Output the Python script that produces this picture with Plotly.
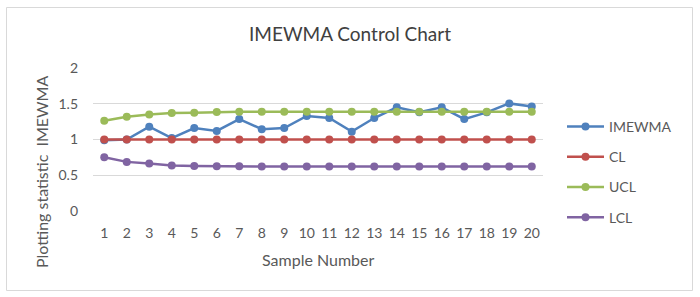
import plotly.graph_objects as go

samples = list(range(1, 21))
imewma = [0.99, 1.00, 1.18, 1.02, 1.16, 1.12, 1.285, 1.145, 1.16, 1.33,
          1.30, 1.11, 1.30, 1.45, 1.38, 1.45, 1.285, 1.38, 1.505, 1.46]
cl = [1.0] * 20
ucl = [1.262, 1.318, 1.35, 1.369, 1.374, 1.383, 1.388, 1.388, 1.388, 1.388,
       1.388, 1.388, 1.388, 1.388, 1.388, 1.388, 1.388, 1.388, 1.388, 1.388]
lcl = [0.752, 0.687, 0.664, 0.636, 0.630, 0.626, 0.625, 0.621, 0.621, 0.621,
       0.621, 0.621, 0.621, 0.621, 0.621, 0.621, 0.621, 0.621, 0.621, 0.621]
y_ticks = [0, 0.5, 1, 1.5, 2]
y_tick_labels = ["0", "0.5", "1", "1.5", "2"]

series = [("IMEWMA", imewma, "#4F81BD"), ("CL", cl, "#C0504D"),
          ("UCL", ucl, "#9BBB59"), ("LCL", lcl, "#8064A2")]

fig = go.Figure()
for name, vals, col in series:
    fig.add_trace(go.Scatter(
        x=samples, y=vals, name=name, mode="lines+markers",
        line=dict(color=col, width=2.5),
        marker=dict(color=col, size=8),
        legendgroup=name,
    ))

font = "Lato, 'Open Sans', sans-serif"
L, R, T, B = 93, 157, 68, 86
W, H = 700, 297
pw, ph = W - L - R, H - T - B

def px(xp):
    return (xp - L) / pw

def py(yp):
    return (H - B - yp) / ph

fig.update_layout(
    width=W, height=H,
    margin=dict(l=L, r=R, t=T, b=B),
    paper_bgcolor="white", plot_bgcolor="white",
    font=dict(family=font, color="#595959", size=14),
    title=dict(text="IMEWMA Control Chart", x=0.5, xref="container",
               y=1 - 34 / H, yref="container", xanchor="center", yanchor="middle",
               font=dict(size=19, color="#404040", family=font)),
    xaxis=dict(range=[0.5, 20.5], tickmode="array", tickvals=samples,
               ticktext=[str(s) for s in samples], showgrid=False,
               zeroline=False, showline=False, ticks="", ticklabelstandoff=12,
               tickfont=dict(size=14, color="#595959")),
    yaxis=dict(range=[0, 2], tickmode="array", tickvals=y_ticks, ticktext=y_tick_labels,
               showgrid=True, gridcolor="#D9D9D9", gridwidth=1, zeroline=False,
               showline=False, ticks="", ticklabelstandoff=14,
               tickfont=dict(size=14, color="#595959")),
    legend=dict(x=px(562), y=py(111), xanchor="left", yanchor="top",
                font=dict(size=14, color="#595959"), tracegroupgap=9,
                itemwidth=37, bgcolor="rgba(0,0,0,0)"),
    shapes=[dict(type="rect", xref="paper", yref="paper",
                 x0=px(6.5), x1=px(692.5), y0=py(290.5), y1=py(7.5),
                 line=dict(color="#D9D9D9", width=1), fillcolor="rgba(0,0,0,0)",
                 layer="below")],
    annotations=[
        dict(text="Sample Number", xref="paper", yref="paper", x=px(318), y=py(259),
             xanchor="center", yanchor="middle", showarrow=False,
             font=dict(size=16, color="#595959")),
        dict(text="Plotting statistic  IMEWMA", xref="paper", yref="paper", x=px(41), y=py(172),
             xanchor="center", yanchor="middle", showarrow=False, textangle=-90,
             font=dict(size=16, color="#595959")),
    ],
)

fig.write_html("out.html", config={"displayModeBar": False},
               post_script="document.body.style.margin='0';document.body.style.overflow='hidden';")
